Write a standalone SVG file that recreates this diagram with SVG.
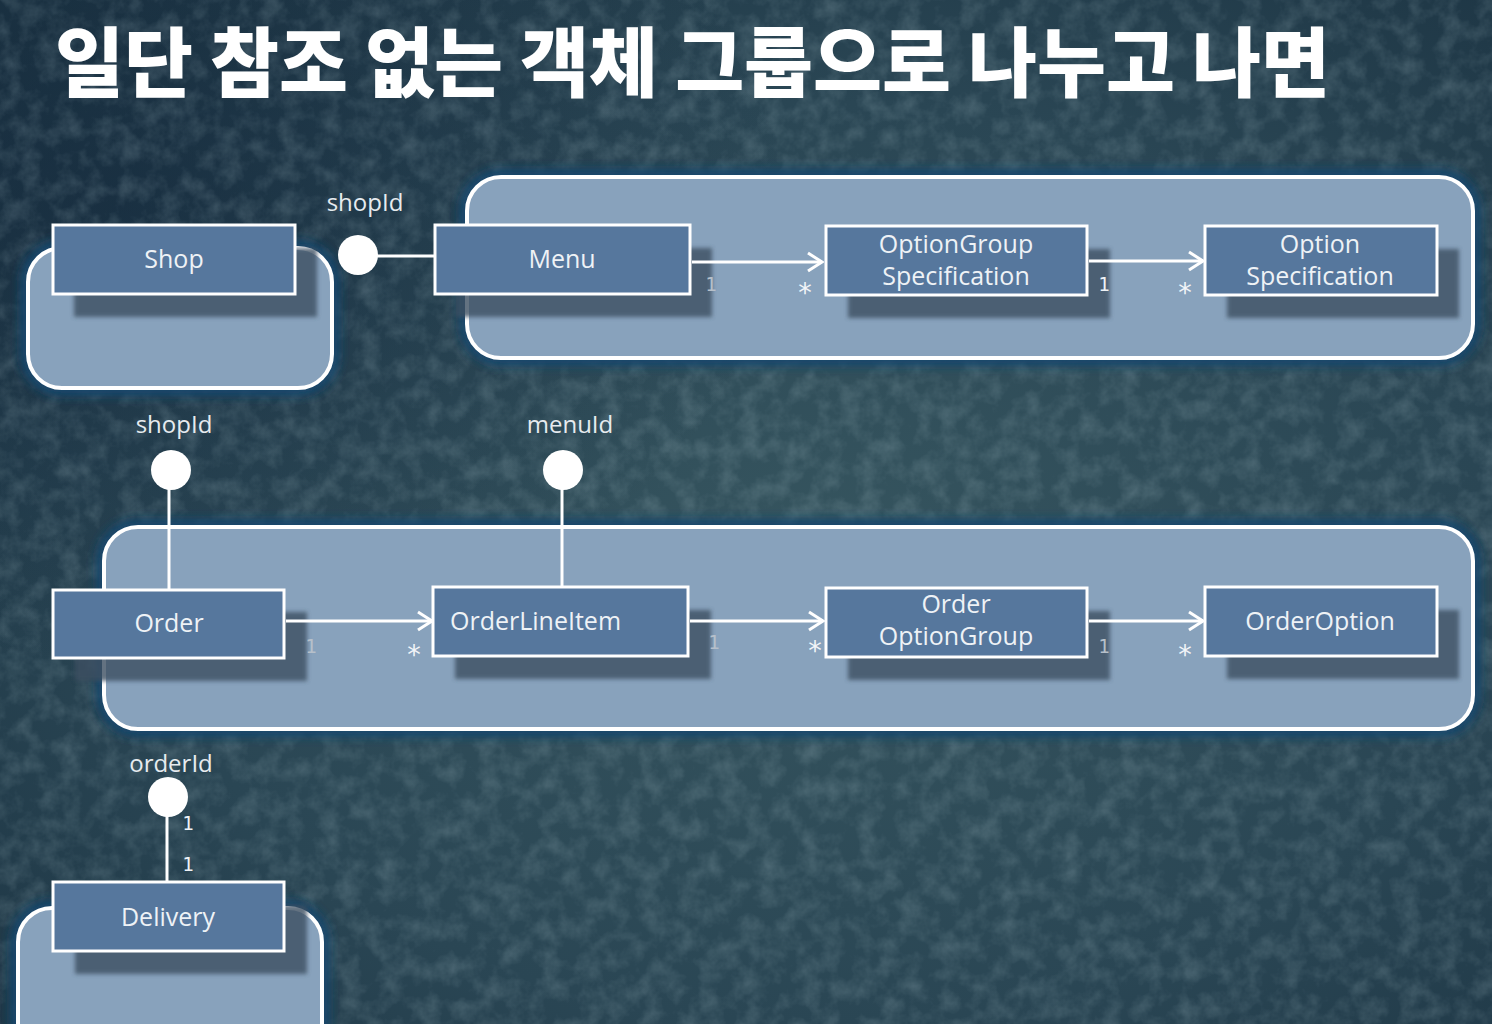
<svg xmlns="http://www.w3.org/2000/svg" width="1492" height="1024" viewBox="0 0 1492 1024">
  <defs>
    <radialGradient id="bgA" cx="0.55" cy="0.55" r="0.75">
      <stop offset="0" stop-color="#36555f"/>
      <stop offset="0.6" stop-color="#2a4654"/>
      <stop offset="1" stop-color="#1d3544"/>
    </radialGradient>
    <radialGradient id="bgB" cx="0.08" cy="0.2" r="0.45">
      <stop offset="0" stop-color="#12263a" stop-opacity="0.6"/>
      <stop offset="1" stop-color="#12263a" stop-opacity="0"/>
    </radialGradient>
    <filter id="noise" x="0" y="0" width="100%" height="100%">
      <feTurbulence type="fractalNoise" baseFrequency="0.05" numOctaves="4" seed="7" result="t"/>
      <feColorMatrix type="matrix" values="0 0 0 0 0.5  0 0 0 0 0.65  0 0 0 0 0.7  0 0 0 1.2 -0.45"/>
    </filter>
    <filter id="glow" x="-10%" y="-20%" width="120%" height="140%">
      <feGaussianBlur stdDeviation="5"/>
    </filter>
    <filter id="soft" x="-10%" y="-20%" width="120%" height="140%">
      <feGaussianBlur stdDeviation="2"/>
    </filter>
    <marker id="arrow" viewBox="0 0 18 22" markerWidth="18" markerHeight="22" refX="16" refY="11" orient="auto" markerUnits="userSpaceOnUse">
      <path d="M2,2 L16,11 L2,20" fill="none" stroke="#ffffff" stroke-width="3" stroke-linejoin="miter"/>
    </marker>
    <style>
      .title { font-family: "Noto Sans CJK KR", "Noto Sans", sans-serif; font-weight: 900; font-size: 76px; fill: #ffffff; }
      .aggHalo { fill: none; stroke: #17466c; stroke-width: 16; filter: url(#glow); }
      .agg { fill: #88a2bc; stroke: #ffffff; stroke-width: 4; }
      .shadow { fill: #3e5062; opacity: 0.8; filter: url(#soft); }
      .box { fill: #56779d; stroke: #ffffff; stroke-width: 3; }
      .lbl { font-family: "Open Sans", "Noto Sans", sans-serif; font-size: 25px; fill: #eef2f6; text-anchor: middle; }
      .key { font-family: "Open Sans", "Noto Sans", sans-serif; font-size: 24px; fill: #e6ebef; text-anchor: middle; }
      .mult { font-family: "DejaVu Sans Mono", "Liberation Mono", monospace; font-size: 19px; fill: #eef2f6; text-anchor: middle; }
      .mult1 { font-family: "DejaVu Sans Mono", "Liberation Mono", monospace; font-size: 19px; fill: #b6c0ca; text-anchor: middle; }
      .star { font-family: "DejaVu Sans", "Liberation Sans", sans-serif; font-size: 27px; fill: #f2f5f8; text-anchor: middle; }
      .line { stroke: #ffffff; stroke-width: 3; fill: none; }
      .dot { fill: #ffffff; }
    </style>
  </defs>

  <!-- background -->
  <rect x="0" y="0" width="1492" height="1024" fill="url(#bgA)"/>
  <rect x="0" y="0" width="1492" height="1024" fill="url(#bgB)"/>
  <rect x="0" y="0" width="1492" height="1024" filter="url(#noise)" opacity="0.3"/>

  <!-- title -->
  <text class="title" x="55" y="91" textLength="1275" lengthAdjust="spacingAndGlyphs">일단 참조 없는 객체 그룹으로 나누고 나면</text>

  <!-- aggregates -->
  <g id="aggregates">
    <g id="agg-shop">
      <rect class="aggHalo" x="28" y="248" width="304" height="140" rx="34"/>
      <rect class="agg" x="28" y="248" width="304" height="140" rx="34"/>
    </g>
    <g id="agg-menu">
      <rect class="aggHalo" x="467" y="177" width="1006" height="181" rx="34"/>
      <rect class="agg" x="467" y="177" width="1006" height="181" rx="34"/>
    </g>
    <g id="agg-order">
      <rect class="aggHalo" x="104" y="527" width="1369" height="202" rx="34"/>
      <rect class="agg" x="104" y="527" width="1369" height="202" rx="34"/>
    </g>
    <g id="agg-delivery">
      <rect class="aggHalo" x="18" y="908" width="304" height="150" rx="34"/>
      <rect class="agg" x="18" y="908" width="304" height="150" rx="34"/>
    </g>
  </g>

  <!-- nodes -->
  <g id="node-shop">
    <rect class="shadow" x="74" y="248" width="243" height="69"/>
    <rect class="box" x="53" y="225" width="242" height="69"/>
    <text class="lbl" x="174" y="268">Shop</text>
  </g>
  <g id="node-menu">
    <rect class="shadow" x="456" y="248" width="256" height="69"/>
    <rect class="box" x="435" y="225" width="255" height="69"/>
    <text class="lbl" x="562" y="268">Menu</text>
  </g>
  <g id="node-optiongroup-spec">
    <rect class="shadow" x="848" y="249" width="262" height="69"/>
    <rect class="box" x="826" y="226" width="261" height="69"/>
    <text class="lbl" x="956" y="253">OptionGroup</text>
    <text class="lbl" x="956" y="285">Specification</text>
  </g>
  <g id="node-option-spec">
    <rect class="shadow" x="1227" y="249" width="232" height="69"/>
    <rect class="box" x="1205" y="226" width="232" height="69"/>
    <text class="lbl" x="1320" y="253">Option</text>
    <text class="lbl" x="1320" y="285">Specification</text>
  </g>
  <g id="node-order">
    <rect class="shadow" x="75" y="612" width="232" height="69"/>
    <rect class="box" x="53" y="590" width="231" height="68"/>
    <text class="lbl" x="169" y="632">Order</text>
  </g>
  <g id="node-orderlineitem">
    <rect class="shadow" x="455" y="610" width="256" height="69"/>
    <rect class="box" x="433" y="587" width="255" height="69"/>
    <text class="lbl" x="450" y="630" style="text-anchor:start">OrderLineItem</text>
  </g>
  <g id="node-order-optiongroup">
    <rect class="shadow" x="848" y="611" width="262" height="69"/>
    <rect class="box" x="826" y="588" width="261" height="69"/>
    <text class="lbl" x="956" y="613">Order</text>
    <text class="lbl" x="956" y="645">OptionGroup</text>
  </g>
  <g id="node-orderoption">
    <rect class="shadow" x="1227" y="610" width="232" height="69"/>
    <rect class="box" x="1205" y="587" width="232" height="69"/>
    <text class="lbl" x="1320" y="630">OrderOption</text>
  </g>
  <g id="node-delivery">
    <rect class="shadow" x="75" y="905" width="232" height="69"/>
    <rect class="box" x="53" y="882" width="231" height="69"/>
    <text class="lbl" x="168" y="926">Delivery</text>
  </g>

  <!-- connectors -->
  <g id="connectors">
    <!-- id references -->
    <line class="line" x1="358" y1="256" x2="435" y2="256"/>
    <circle class="dot" cx="358" cy="255" r="20"/>
    <text class="key" x="365" y="211">shopId</text>

    <line class="line" x1="169" y1="470" x2="169" y2="589"/>
    <circle class="dot" cx="171" cy="470" r="20"/>
    <text class="key" x="174" y="433">shopId</text>

    <line class="line" x1="562" y1="470" x2="562" y2="586"/>
    <circle class="dot" cx="563" cy="470" r="20"/>
    <text class="key" x="570" y="433">menuId</text>

    <line class="line" x1="167" y1="797" x2="167" y2="881"/>
    <circle class="dot" cx="168" cy="797" r="20"/>
    <text class="key" x="171" y="772">orderId</text>
    <text class="mult" x="188" y="830">1</text>
    <text class="mult" x="188" y="871">1</text>

    <!-- associations row 1 -->
    <line class="line" x1="692" y1="262" x2="822" y2="262" marker-end="url(#arrow)"/>
    <text class="mult1" x="711" y="291">1</text>
    <text class="star" x="805" y="302">*</text>

    <line class="line" x1="1089" y1="261" x2="1203" y2="261" marker-end="url(#arrow)"/>
    <text class="mult" x="1104" y="291">1</text>
    <text class="star" x="1185" y="302">*</text>

    <!-- associations row 2 -->
    <line class="line" x1="286" y1="621" x2="432" y2="621" marker-end="url(#arrow)"/>
    <text class="mult1" x="311" y="653">1</text>
    <text class="star" x="414" y="664">*</text>

    <line class="line" x1="690" y1="621" x2="823" y2="621" marker-end="url(#arrow)"/>
    <text class="mult1" x="714" y="649">1</text>
    <text class="star" x="815" y="660">*</text>

    <line class="line" x1="1089" y1="621" x2="1203" y2="621" marker-end="url(#arrow)"/>
    <text class="mult1" x="1104" y="653">1</text>
    <text class="star" x="1185" y="664">*</text>
  </g>
</svg>
